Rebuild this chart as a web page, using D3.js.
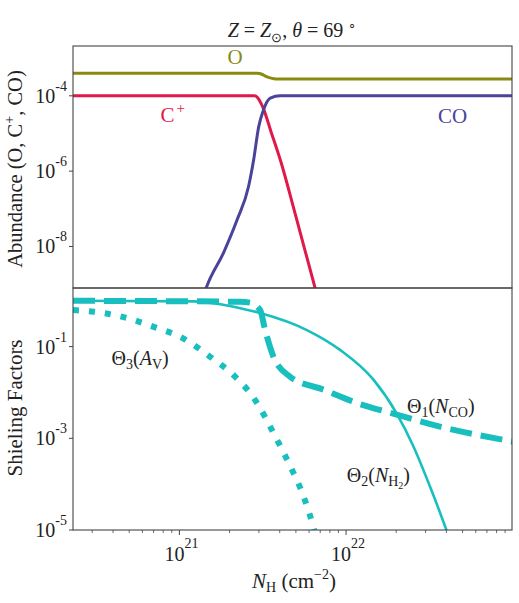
<!DOCTYPE html>
<html lang="en">
<head>
  <meta charset="UTF-8">
  <title>Abundance and shielding factors</title>
  <script src="https://d3js.org/d3.v7.min.js"></script>
  <style>
    body { margin: 0; background: #fff; }
    svg text { font-family: "Liberation Serif", "Times New Roman", serif; fill: #222; }
    .frame { fill: none; stroke: #444; stroke-width: 1.1; }
  </style>
</head>
<body>
<svg width="519" height="603"></svg>
<script>
// ---- data ----
// top panel: abundances vs N_H (cm^-2)
const nO   = [2.3e20, 2.95e21, 3.1e21, 3.3e21, 3.55e21, 3.8e21, 1e23];
const abO  = [4.0e-4, 4.0e-4, 3.8e-4, 3.3e-4, 2.95e-4, 2.8e-4, 2.8e-4];

const nCp  = [2.3e20, 2.82e21, 2.95e21, 3.09e21, 3.18e21, 3.55e21, 4.03e21, 5.0e21, 6.52e21, 7.1e21];
const abCp = [1.0e-4, 1.0e-4, 8.9e-5, 6.3e-5, 4.8e-5, 1.1e-5, 2.0e-6, 6.3e-8, 7.9e-10, 2e-10];

const nCO  = [1.40e21, 1.45e21, 1.84e21, 2.22e21, 2.60e21, 2.79e21, 2.99e21, 3.20e21, 3.51e21, 4.03e21, 1e23];
const abCO = [5e-10, 8e-10, 6.8e-9, 5.1e-8, 3.9e-7, 2.0e-6, 1.5e-5, 4.3e-5, 8.7e-5, 1.0e-4, 1.0e-4];

// bottom panel: shielding factors
const nTh1 = [2.3e20, 2.32e21, 2.66e21, 3.05e21, 3.27e21, 3.67e21, 4.62e21, 7.33e21, 1.16e22, 2.01e22, 3.66e22, 1e23];
const th1  = [1.0, 0.95, 0.91, 0.63, 0.23, 0.060, 0.022, 0.0115, 0.0059, 0.0033, 0.0018, 8.5e-4];

const nTh2 = [2.3e20, 1.21e21, 1.8e21, 2.32e21, 3.05e21, 5.82e21, 9.2e21, 1.46e22, 2.01e22, 2.53e22, 3.18e22, 4.0e22, 4.47e22];
const th2  = [1.0, 0.97, 0.83, 0.69, 0.54, 0.23, 0.085, 0.019, 0.0035, 6.8e-4, 9.1e-5, 1.0e-5, 3.2e-6];

const nTh3 = [2.3e20, 3.07e20, 4.63e20, 7.01e20, 1.06e21, 1.53e21, 2.11e21, 2.79e21, 3.85e21, 4.62e21, 5.55e21, 6.37e21, 6.76e21];
const th3  = [0.63, 0.575, 0.44, 0.27, 0.15, 0.060, 0.024, 0.0076, 9.3e-4, 2.5e-4, 5.5e-5, 1.15e-5, 5e-6];

const xMajor = [1e21, 1e22];
const xMinor = [3e20, 4e20, 5e20, 6e20, 7e20, 8e20, 9e20, 2e21, 3e21, 4e21, 5e21, 6e21, 7e21, 8e21, 9e21,
                2e22, 3e22, 4e22, 5e22, 6e22, 7e22, 8e22, 9e22];
const yTopTicks = [1e-4, 1e-6, 1e-8];
const yBotTicks = [1e-1, 1e-3, 1e-5];

// ---- layout ----
const svg = d3.select("svg");
const pLeft = 73, pRight = 512, pTop = 46, pMid = 288, pBottom = 530;

const x = d3.scaleLog().domain([2.3e20, 9.9e22]).range([pLeft, pRight]);
const yTop = d3.scaleLog().domain([7.9e-10, 2.1e-3]).range([pMid, pTop]);
const yBot = d3.scaleLog().domain([1e-5, 1.9]).range([pBottom, pMid]);

const expOf = v => Math.round(Math.log10(v));

// clip paths
const defs = svg.append("defs");
defs.append("clipPath").attr("id", "clipTop").append("rect")
  .attr("x", pLeft).attr("y", pTop).attr("width", pRight - pLeft).attr("height", pMid - pTop);
defs.append("clipPath").attr("id", "clipBot").append("rect")
  .attr("x", pLeft).attr("y", pMid).attr("width", pRight - pLeft).attr("height", pBottom - pMid);

function drawLine(g, xs, ys, yScale, color, width, dash) {
  const pts = xs.map((v, i) => [x(v), yScale(ys[i])]);
  const p = g.append("path")
    .attr("d", d3.line().curve(d3.curveMonotoneX)(pts))
    .attr("fill", "none")
    .attr("stroke", color)
    .attr("stroke-width", width);
  if (dash) p.attr("stroke-dasharray", dash);
  return p;
}

// top panel curves
const gTop = svg.append("g").attr("clip-path", "url(#clipTop)");
drawLine(gTop, nO, abO, yTop, "#8a8a12", 3);
drawLine(gTop, nCp, abCp, yTop, "#e0194a", 3);
drawLine(gTop, nCO, abCO, yTop, "#4a4399", 3);

// bottom panel curves
const teal = "#19bfbf";
const gBot = svg.append("g").attr("clip-path", "url(#clipBot)");
drawLine(gBot, nTh2, th2, yBot, teal, 2.6);
drawLine(gBot, nTh1, th1, yBot, teal, 6, "22,9");
drawLine(gBot, nTh3, th3, yBot, teal, 6, "6,10");

// frames
svg.append("rect").attr("class", "frame")
  .attr("x", pLeft).attr("y", pTop).attr("width", pRight - pLeft).attr("height", pMid - pTop);
svg.append("rect").attr("class", "frame")
  .attr("x", pLeft).attr("y", pMid).attr("width", pRight - pLeft).attr("height", pBottom - pMid);

// x axis (bottom only)
const gx = svg.append("g");
gx.selectAll("line.maj").data(xMajor).enter().append("line").attr("class", "maj")
  .attr("x1", d => x(d)).attr("x2", d => x(d)).attr("y1", pBottom).attr("y2", pBottom + 5)
  .attr("stroke", "#444").attr("stroke-width", 1);
gx.selectAll("line.min").data(xMinor).enter().append("line").attr("class", "min")
  .attr("x1", d => x(d)).attr("x2", d => x(d)).attr("y1", pBottom).attr("y2", pBottom + 3)
  .attr("stroke", "#444").attr("stroke-width", 0.8);
const xl = gx.selectAll("text").data(xMajor).enter().append("text")
  .attr("x", d => x(d) + 2).attr("y", pBottom + 31)
  .attr("text-anchor", "middle").attr("font-size", 20);
xl.append("tspan").text("10");
xl.append("tspan").attr("dy", -13).attr("font-size", 14).text(d => expOf(d));

// y axes
function yAxis(ticks, scale) {
  const g = svg.append("g");
  g.selectAll("line").data(ticks).enter().append("line")
    .attr("x1", pLeft - 4).attr("x2", pLeft).attr("y1", d => scale(d)).attr("y2", d => scale(d))
    .attr("stroke", "#444").attr("stroke-width", 1);
  const t = g.selectAll("text").data(ticks).enter().append("text")
    .attr("x", pLeft - 6).attr("y", d => scale(d) + 7)
    .attr("text-anchor", "end").attr("font-size", 20);
  t.append("tspan").text("10");
  t.append("tspan").attr("dy", -12).attr("font-size", 14).text(d => expOf(d));
}
yAxis(yTopTicks, yTop);
yAxis(yBotTicks, yBot);

// title
const title = svg.append("text").attr("x", 292).attr("y", 37)
  .attr("text-anchor", "middle").attr("font-size", 20);
title.append("tspan").attr("font-style", "italic").text("Z");
title.append("tspan").text(" = ");
title.append("tspan").attr("font-style", "italic").text("Z");
title.append("tspan").attr("font-size", 13).attr("dy", 5).text("⊙");
title.append("tspan").attr("dy", -5).text(", ");
title.append("tspan").attr("font-style", "italic").text("θ");
title.append("tspan").text(" = 69 ");
title.append("tspan").attr("font-size", 13).attr("dy", -8).text("∘");

// axis labels
const yl1 = svg.append("text")
  .attr("transform", `translate(22,${(pTop + pMid) / 2 + 2}) rotate(-90)`)
  .attr("text-anchor", "middle").attr("font-size", 20.5);
yl1.append("tspan").text("Abundance (O, C");
yl1.append("tspan").attr("font-size", 14).attr("dy", -8).text("+");
yl1.append("tspan").attr("dy", 8).text(", CO)");

svg.append("text")
  .attr("transform", `translate(22,${(pMid + pBottom) / 2 - 1}) rotate(-90)`)
  .attr("text-anchor", "middle").attr("font-size", 21).text("Shieling Factors");

const xlab = svg.append("text").attr("x", 294).attr("y", 588)
  .attr("text-anchor", "middle").attr("font-size", 21);
xlab.append("tspan").attr("font-style", "italic").text("N");
xlab.append("tspan").attr("font-size", 14).attr("dy", 4).text("H");
xlab.append("tspan").attr("dy", -4).text(" (cm");
xlab.append("tspan").attr("font-size", 14).attr("dy", -9).text("−2");
xlab.append("tspan").attr("dy", 9).text(")");

// curve labels
svg.append("text").attr("x", x(2.16e21)).attr("y", yTop(7.1e-4))
  .attr("text-anchor", "middle").attr("font-size", 21).style("fill", "#8a8a12").text("O");
const cp = svg.append("text").attr("x", x(7.7e20)).attr("y", yTop(2.0e-5))
  .attr("font-size", 21).style("fill", "#e0194a");
cp.append("tspan").text("C");
cp.append("tspan").attr("font-size", 15).attr("dx", 2).attr("dy", -9).text("+");
svg.append("text").attr("x", x(3.56e22)).attr("y", yTop(1.9e-5))
  .attr("font-size", 21).style("fill", "#4a4399").text("CO");

function thetaLabel(nx, vy, sub, arg, argSub, argSub2) {
  const t = svg.append("text").attr("x", x(nx)).attr("y", yBot(vy)).attr("font-size", 20);
  t.append("tspan").text("Θ");
  t.append("tspan").attr("font-size", 14).attr("dy", 4).text(sub);
  t.append("tspan").attr("dy", -4).text("(");
  t.append("tspan").attr("font-style", "italic").text(arg);
  t.append("tspan").attr("font-size", 14).attr("dy", 4).text(argSub);
  let back = 4;
  if (argSub2) {
    t.append("tspan").attr("font-size", 10).attr("dy", 3).text(argSub2);
    back = 7;
  }
  t.append("tspan").attr("dy", -back).text(")");
  return t;
}
thetaLabel(3.92e20, 0.040, "3", "A", "V");
thetaLabel(2.32e22, 0.0036, "1", "N", "CO");
thetaLabel(1.01e22, 1.1e-4, "2", "N", "H", "2");
</script>
</body>
</html>
